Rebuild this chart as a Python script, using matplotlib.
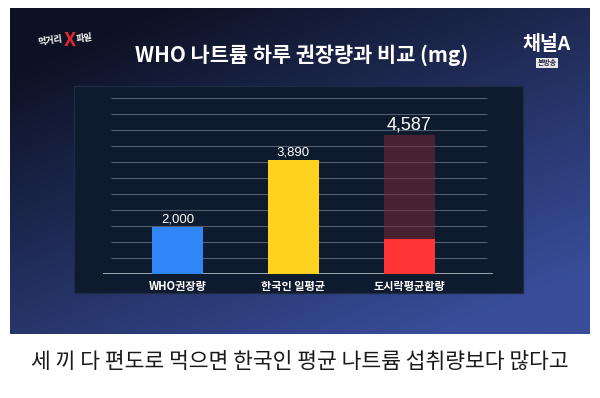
import numpy as np
import matplotlib
matplotlib.use('Agg')
import matplotlib.pyplot as plt
from matplotlib.patches import Rectangle

plt.rcParams['font.family'] = ['Noto Sans CJK KR', 'DejaVu Sans']

# 데이터
categories = ['WHO권장량', '한국인 일평균', '도시락평균함량']
values = [2000, 3890, 4587]
value_labels = ['2,000', '3,890', '4,587']
lunchbox_fill = 1650   # 빨간 막대 중 밝게 채워진 부분
title = 'WHO 나트륨 하루 권장량과 비교 (mg)'
caption = '세 끼 다 편도로 먹으면 한국인 평균 나트륨 섭취량보다 많다고'

fig = plt.figure(figsize=(6, 3.98), dpi=100, facecolor='white')
W, H = 600, 398

def fx(px):
    return px / W

def fy(py):
    return 1 - py / H

# 배경 (방송 화면)
bg = fig.add_axes([fx(10), fy(334), fx(580), 326 / H])
gx, gy = np.meshgrid(np.linspace(0, 1, 200), np.linspace(0, 1, 200))
t = np.clip(0.55 * gx + 0.75 * gy - 0.15, 0, 1)
c0 = np.array([0.05, 0.07, 0.14])
c1 = np.array([0.22, 0.30, 0.60])
img = c0 + (c1 - c0) * t[..., None]
bg.imshow(img, aspect='auto', extent=[0, 1, 0, 1], origin='upper')
bg.set_axis_off()

# 안쪽 어두운 패널
fig.patches.append(Rectangle((fx(74), fy(293)), fx(449), 207 / H,
                             transform=fig.transFigure, facecolor='#0e1a2d',
                             edgecolor='#1d2b45', lw=1, zorder=1))

# 차트
ax = fig.add_axes([fx(103), fy(274), fx(390), 177 / H])
ax.set_facecolor('none')
ax.set_zorder(2)
x = np.arange(len(categories))
ax.set_xlim(-0.642, 2.72)
ax.set_ylim(680, 5652)

grid_y = 680 + 450 * np.arange(1, 12)
ax.hlines(grid_y, -0.573, 2.668, color='#8c97aa', lw=0.8, alpha=0.55)
ax.axhline(680, color='#c9d0dc', lw=1.8)

bw = 0.44
ax.bar(x[0], values[0], width=bw, color='#2f86f6', zorder=3)
ax.bar(x[1], values[1], width=bw, color='#ffd21f', zorder=3)
ax.bar(x[2], values[2], width=bw, color='#7a2a35', alpha=0.55, zorder=3)
ax.bar(x[2], lunchbox_fill, width=bw, color='#ff3434', zorder=4)

sizes = [9.5, 9.5, 13]
for i in range(len(values)):
    ax.annotate(value_labels[i], (x[i], values[i]), xytext=(0, 1),
                textcoords='offset points', ha='center', va='bottom',
                color='white', fontsize=sizes[i], family='Liberation Sans')

ax.set_xticks(x)
ax.set_xticklabels(categories, color='white', fontsize=8, fontweight='bold')
ax.tick_params(axis='x', length=0, pad=4)
ax.set_yticks([])
for s in ax.spines.values():
    s.set_visible(False)

# 제목과 로고
fig.text(fx(302), fy(55), title, ha='center', va='center', color='white',
         fontsize=15, fontweight='bold')
fig.text(fx(547), fy(44), '채널A', ha='center', va='center', color='white',
         fontsize=14, fontweight='bold')
fig.text(fx(547), fy(63), '본방송', ha='center', va='center', color='#1a2340',
         fontsize=5, fontweight='bold',
         bbox=dict(boxstyle='square,pad=0.2', fc='#e8e8e8', ec='none'))
fig.text(fx(50), fy(41), '먹거리', ha='center', va='center', color='white',
         fontsize=6.5, fontweight='bold', rotation=8)
fig.text(fx(70), fy(40), 'X', ha='center', va='center', color='#e0262f',
         fontsize=14, fontweight='bold')
fig.text(fx(84), fy(38), '파일', ha='center', va='center', color='white',
         fontsize=6.5, fontweight='bold', rotation=8)

# 아래 자막
fig.text(0.5, fy(362), caption, ha='center', va='center', color='#1a1a1a',
         fontsize=15.5)

fig.savefig('out.png', dpi=100, facecolor='white')
